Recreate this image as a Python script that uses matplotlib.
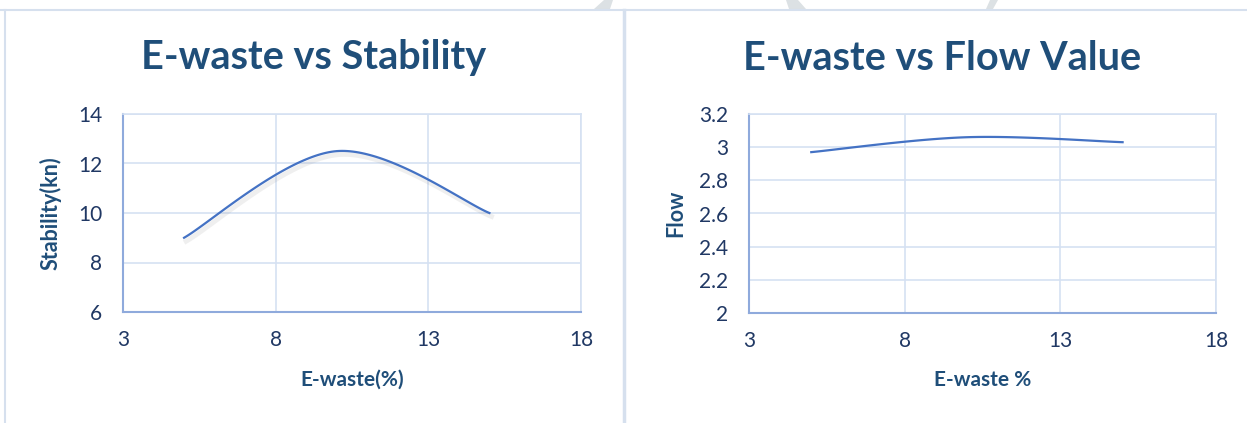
import numpy as np
import matplotlib
matplotlib.use("Agg")
import matplotlib.pyplot as plt
from matplotlib import patheffects as pe
from matplotlib.lines import Line2D
from matplotlib.patches import Polygon

# ---- data ----
ewaste = [5, 10, 15]
stability = [9.0, 12.5, 10.0]
flow = [2.97, 3.06, 3.03]

stab_yticks = [6, 8, 10, 12, 14]
flow_yticks = [2.0, 2.2, 2.4, 2.6, 2.8, 3.0, 3.2]
flow_yticklabels = ["2", "2.2", "2.4", "2.6", "2.8", "3", "3.2"]
xticks = [3, 8, 13, 18]

plt.rcParams['font.family'] = ['Lato', 'DejaVu Sans']

TITLE_C = "#1F4E79"
TICK_C = "#203864"
GRID_C = "#D5E1F2"
SPINE_C = "#8FAADC"
LINE_C = "#4472C4"
BORDER_C = "#D6E0EE"


def smooth(x, y, n=60):
    """Excel-like smoothed line (Catmull-Rom Bezier)."""
    x = np.asarray(x, float)
    y = np.asarray(y, float)
    P = np.column_stack([x, y])
    out = []
    for i in range(len(P) - 1):
        p0 = P[i - 1] if i > 0 else P[i]
        p1 = P[i]
        p2 = P[i + 1]
        p3 = P[i + 2] if i + 2 < len(P) else P[i + 1]
        c1 = p1 + (p2 - p0) / 6.0
        c2 = p2 - (p3 - p1) / 6.0
        t = np.linspace(0, 1, n)[:, None]
        seg = ((1 - t) ** 3) * p1 + 3 * ((1 - t) ** 2) * t * c1 + 3 * (1 - t) * t ** 2 * c2 + t ** 3 * p2
        out.append(seg if i == 0 else seg[1:])
    s = np.vstack(out)
    return s[:, 0], s[:, 1]


fig = plt.figure(figsize=(12.47, 4.23), dpi=100)

# panel borders
fig.add_artist(Line2D([0, 1], [1 - 10 / 423, 1 - 10 / 423], color=BORDER_C, lw=1.5, transform=fig.transFigure))
fig.add_artist(Line2D([5 / 1247, 5 / 1247], [0, 1 - 10 / 423], color=BORDER_C, lw=1.5, transform=fig.transFigure))
fig.add_artist(Line2D([624 / 1247, 624 / 1247], [0, 1 - 10 / 423], color=BORDER_C, lw=2.5, transform=fig.transFigure))

# faint watermark pieces at top
for (t0, t1, b1, b0) in ([604, 613, 610, 594], [786, 798, 806, 789], [990, 998, 993, 986]):
    pts = [(t0 / 1247, 1), (t1 / 1247, 1), (b1 / 1247, 1 - 9 / 423), (b0 / 1247, 1 - 9 / 423)]
    fig.add_artist(Polygon(pts, closed=True, color="#DCE1E4", transform=fig.transFigure, lw=0))


def style(ax, xlab, ylab, title, tcx, ylpad):
    ax.set_xlim(3, 18)
    ax.set_xticks(xticks)
    ax.grid(True, color=GRID_C, lw=1.2)
    ax.set_axisbelow(True)
    for s in ["top", "right"]:
        ax.spines[s].set_color(GRID_C)
        ax.spines[s].set_linewidth(1.2)
    for s in ["left", "bottom"]:
        ax.spines[s].set_color(SPINE_C)
        ax.spines[s].set_linewidth(1.5)
    ax.tick_params(length=0, labelsize=15, colors=TICK_C)
    ax.tick_params(axis='y', pad=15)
    ax.tick_params(axis='x', pad=13)
    ax.set_xlabel(xlab, fontsize=15, fontweight='bold', color=TITLE_C, labelpad=14)
    ax.set_ylabel(ylab, fontsize=15.5, fontweight='bold', color=TITLE_C, labelpad=ylpad)
    fig.text(tcx, 1 - 58 / 423, title, fontsize=28.5, fontweight='bold', color=TITLE_C,
             ha='center', va='center')


shadow = [pe.SimpleLineShadow(offset=(1.5, -2.5), shadow_color='#888888', alpha=0.13, linewidth=3.5), pe.Normal()]

ax1 = fig.add_axes([123 / 1247, 1 - 312 / 423, 458 / 1247, 198 / 423])
sx, sy = smooth(ewaste, stability)
ax1.plot(sx, sy, color=LINE_C, lw=1.6, path_effects=shadow)
ax1.set_ylim(6, 14)
ax1.set_yticks(stab_yticks)
style(ax1, "E-waste(%)", "Stability(kn)", "E-waste vs Stability", 314 / 1247, 12)

ax2 = fig.add_axes([749 / 1247, 1 - 313 / 423, 467 / 1247, 199 / 423])
fx, fy = smooth(ewaste, flow)
ax2.plot(fx, fy, color=LINE_C, lw=1.6)
ax2.set_ylim(2.0, 3.2)
ax2.set_yticks(flow_yticks)
ax2.set_yticklabels(flow_yticklabels)
style(ax2, "E-waste %", "Flow", "E-waste vs Flow Value", 942 / 1247, 9)

fig.savefig("out.png", dpi=100, facecolor="white")
